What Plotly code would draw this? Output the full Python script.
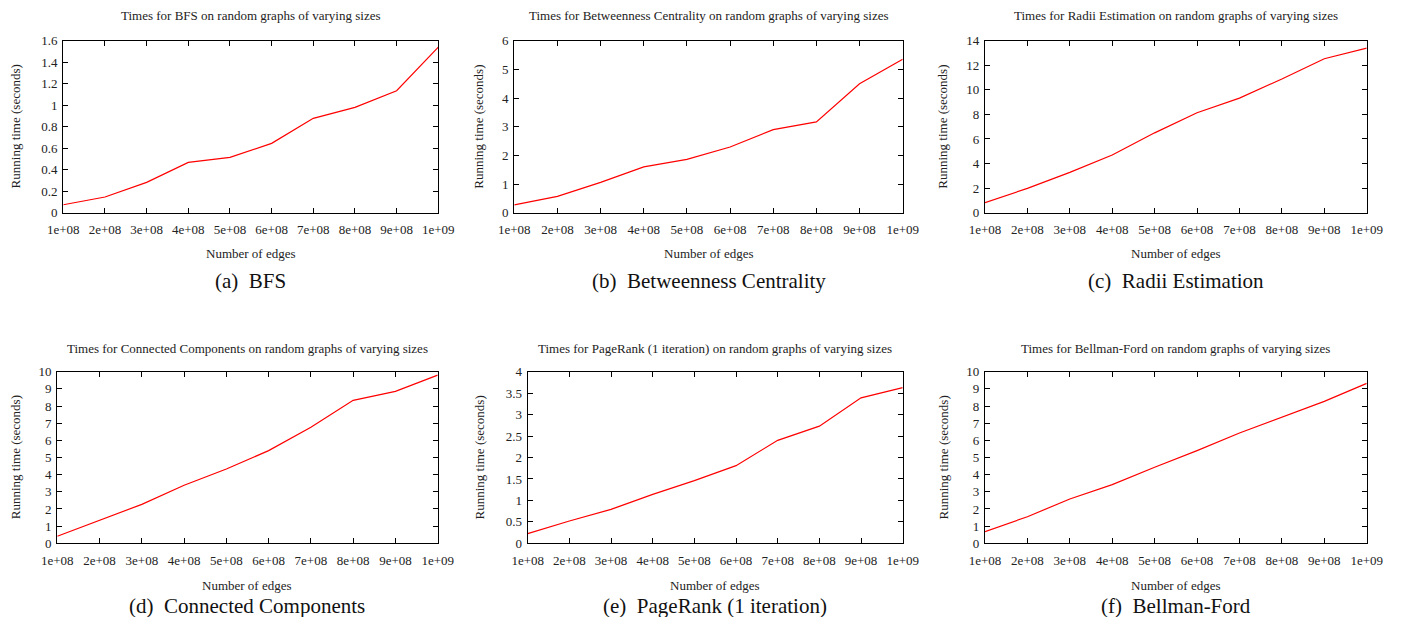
import plotly.graph_objects as go

edges = [1e8, 2e8, 3e8, 4e8, 5e8, 6e8, 7e8, 8e8, 9e8, 1e9]
edge_labels = ["1e+08", "2e+08", "3e+08", "4e+08", "5e+08", "6e+08", "7e+08", "8e+08", "9e+08", "1e+09"]

bfs = [0.074, 0.146, 0.282, 0.468, 0.515, 0.645, 0.878, 0.98, 1.135, 1.54]
betweenness = [0.27, 0.57, 1.06, 1.6, 1.86, 2.29, 2.9, 3.17, 4.5, 5.35]
radii = [0.81, 1.98, 3.28, 4.69, 6.5, 8.14, 9.33, 10.88, 12.53, 13.4]
conncomp = [0.41, 1.32, 2.27, 3.38, 4.33, 5.4, 6.76, 8.33, 8.85, 9.8]
pagerank = [0.225, 0.52, 0.79, 1.14, 1.46, 1.81, 2.4, 2.73, 3.39, 3.63]
bellman = [0.68, 1.55, 2.58, 3.42, 4.43, 5.4, 6.43, 7.36, 8.27, 9.32]

names = ["BFS", "Betweenness Centrality", "Radii Estimation",
         "Connected Components", "PageRank (1 iteration)", "Bellman-Ford"]
letters = ["a", "b", "c", "d", "e", "f"]
series = [bfs, betweenness, radii, conncomp, pagerank, bellman]
y_ticks = [
    [0, 0.2, 0.4, 0.6, 0.8, 1, 1.2, 1.4, 1.6],
    [0, 1, 2, 3, 4, 5, 6],
    [0, 2, 4, 6, 8, 10, 12, 14],
    list(range(0, 11)),
    [0, 0.5, 1, 1.5, 2, 2.5, 3, 3.5, 4],
    list(range(0, 11)),
]
y_ticktext = [
    ["0", "0.2", "0.4", "0.6", "0.8", "1", "1.2", "1.4", "1.6"],
    ["0", "1", "2", "3", "4", "5", "6"],
    ["0", "2", "4", "6", "8", "10", "12", "14"],
    [str(v) for v in range(0, 11)],
    ["0", "0.5", "1", "1.5", "2", "2.5", "3", "3.5", "4"],
    [str(v) for v in range(0, 11)],
]

# figure sits inside the page's default 8px body margin
OFF = 8
W, H = 1402 - 2 * OFF, 625 - 2 * OFF


def px(X):
    return (X - OFF) / W


def py(Y):
    return 1 - (Y - OFF) / H


# plot areas in page pixels: (x0, x1, y_top, y_bottom)
boxes = [
    (63.3, 438.3, 40.7, 212.7),
    (514.3, 902.7, 40.7, 212.7),
    (985.0, 1366.7, 40.7, 212.7),
    (57.3, 437.7, 371.7, 543.3),
    (527.7, 902.7, 371.7, 543.3),
    (985.0, 1366.7, 371.7, 543.3),
]
ytitle_x = [15.7, 479, 943, 15.7, 479, 943]
title_y = [16, 16, 16, 348, 348, 348]
xtitle_y = [253, 253, 253, 585, 585, 585]
cap_y = [281, 281, 281, 606, 606, 606]

FONT = "Liberation Serif, Times New Roman, serif"
SMALL = 13

fig = go.Figure()
annotations = []
for i in range(6):
    x0, x1, yt, yb = boxes[i]
    ax = "" if i == 0 else str(i + 1)
    fig.add_trace(go.Scatter(
        x=edges, y=series[i], mode="lines",
        line=dict(color="#ff0000", width=1.2),
        xaxis="x" + ax, yaxis="y" + ax, showlegend=False, hoverinfo="skip"))
    axis_common = dict(
        showline=True, linecolor="black", linewidth=1.3, mirror="allticks",
        ticks="inside", ticklen=5, tickwidth=1, tickcolor="black",
        showgrid=False, zeroline=False, automargin=False,
        tickfont=dict(family=FONT, size=SMALL, color="#222"),
    )
    fig.update_layout(**{
        "xaxis" + ax: dict(domain=[px(x0), px(x1)], range=[1e8, 1e9],
                           tickvals=edges, ticktext=edge_labels,
                           ticklabelstandoff=5,
                           anchor="y" + ax, **axis_common),
        "yaxis" + ax: dict(domain=[py(yb), py(yt)],
                           range=[0, y_ticks[i][-1]],
                           tickvals=y_ticks[i], ticktext=y_ticktext[i],
                           ticklabelstandoff=2,
                           anchor="x" + ax, **axis_common),
    })
    cx = (x0 + x1) / 2
    annotations.append(dict(
        text=f"Times for {names[i]} on random graphs of varying sizes",
        x=px(cx), y=py(title_y[i]), xref="paper", yref="paper",
        showarrow=False, xanchor="center", yanchor="middle",
        font=dict(family=FONT, size=SMALL, color="#222")))
    annotations.append(dict(
        text="Number of edges",
        x=px(cx), y=py(xtitle_y[i]), xref="paper", yref="paper",
        showarrow=False, xanchor="center", yanchor="middle",
        font=dict(family=FONT, size=SMALL, color="#222")))
    annotations.append(dict(
        text="Running time (seconds)", textangle=-90,
        x=px(ytitle_x[i]), y=py((yt + yb) / 2), xref="paper", yref="paper",
        showarrow=False, xanchor="center", yanchor="middle",
        font=dict(family=FONT, size=SMALL, color="#222")))
    annotations.append(dict(
        text=f"({letters[i]})\u00a0\u00a0{names[i]}",
        x=px(cx), y=py(cap_y[i]), xref="paper", yref="paper",
        showarrow=False, xanchor="center", yanchor="middle",
        font=dict(family=FONT, size=21, color="#111")))

fig.update_layout(
    width=W, height=H, margin=dict(l=0, r=0, t=0, b=0, autoexpand=False),
    paper_bgcolor="white", plot_bgcolor="white",
    annotations=annotations,
)
fig.write_html("out.html")
